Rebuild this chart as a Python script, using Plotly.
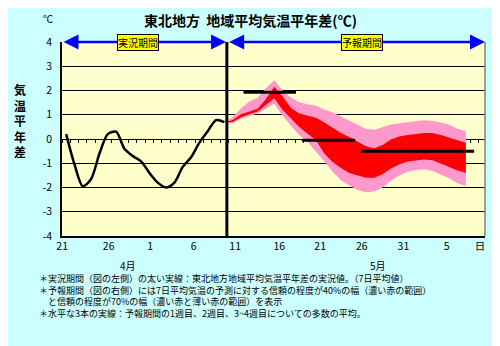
import plotly.graph_objects as go

# observed 7-day mean anomaly (day index 0 = Apr 21)
obs_days = list(range(20))
obs_vals = [0.2, -1.05, -1.95, -1.65, -0.6, 0.2, 0.3, -0.4, -0.7, -0.92,
            -1.4, -1.8, -2.0, -1.8, -1.15, -0.75, -0.15, 0.32, 0.78, 0.7]

# forecast period bands
fc_days = list(range(19, 49))
pink_hi = [0.68, 0.92, 1.26, 1.55, 1.7, 2.1, 2.42, 2.0, 1.7, 1.52,
           1.43, 1.37, 1.22, 1.1, 0.93, 0.75, 0.58, 0.42, 0.38, 0.5,
           0.6, 0.65, 0.7, 0.74, 0.77, 0.75, 0.68, 0.6, 0.42, 0.33]
red_hi = [0.68, 0.78, 1.02, 1.15, 1.25, 1.65, 2.15, 1.75, 1.28, 1.05,
          0.96, 0.88, 0.68, 0.45, 0.25, 0.08, -0.1, -0.3, -0.38, -0.25,
          -0.02, 0.1, 0.16, 0.2, 0.25, 0.25, 0.17, 0.05, -0.05, -0.15]
red_lo = [0.68, 0.7, 0.9, 1.02, 1.13, 1.4, 1.68, 1.2, 0.85, 0.5,
          0.22, -0.05, -0.6, -0.95, -1.2, -1.4, -1.5, -1.6, -1.6, -1.45,
          -1.22, -1.05, -0.93, -0.88, -0.85, -0.88, -1.0, -1.15, -1.3, -1.39]
pink_lo = [0.68, 0.65, 0.83, 0.95, 1.05, 1.25, 1.45, 0.95, 0.57, 0.15,
           -0.12, -0.5, -0.92, -1.35, -1.7, -1.92, -2.1, -2.2, -2.17, -2.0,
           -1.72, -1.5, -1.35, -1.28, -1.25, -1.32, -1.48, -1.62, -1.82, -1.94]

# weekly averages (1st week, 2nd week, weeks 3-4)
avg_vals = [1.93, -0.05, -0.5]
avg_start = [21.3, 28.3, 35.4]
avg_end = [27.6, 34.7, 49.0]

split_day = 19.3
tick_pos = [-0.48, 5.1, 10.1, 15.3, 20.3, 25.6, 30.5, 35.5, 40.5, 45.7, 49.7]
tick_text = ["21", "26", "1", "6", "11", "16", "21", "26", "31", "5", "日"]
y_ticks = [4, 3, 2, 1, 0, -1, -2, -3, -4]
y_text = ["4", "3", "2", "1", "0", "-1", "-2", "-3", "-4"]

FONT = "Noto Sans CJK JP"
fig = go.Figure()

fig.add_trace(go.Scatter(x=fc_days + fc_days[::-1], y=pink_hi + pink_lo[::-1],
                         fill="toself", fillcolor="#FF99CC", line=dict(width=0),
                         mode="lines", hoverinfo="skip"))
fig.add_trace(go.Scatter(x=fc_days + fc_days[::-1], y=red_hi + red_lo[::-1],
                         fill="toself", fillcolor="#FF0000", line=dict(width=0),
                         mode="lines", hoverinfo="skip"))
fig.add_trace(go.Scatter(x=obs_days, y=obs_vals, mode="lines",
                         line=dict(color="black", width=2.5, shape="spline", smoothing=0.8)))
for v, a, b in zip(avg_vals, avg_start, avg_end):
    fig.add_trace(go.Scatter(x=[a, b], y=[v, v], mode="lines",
                             line=dict(color="black", width=3)))

# invisible trace so the zero-line day axis gets drawn
fig.add_trace(go.Scatter(x=[0], y=[0], xaxis="x2", mode="markers",
                         marker=dict(opacity=0), hoverinfo="skip"))

xr = [-0.5, 50.3]
# page body has an 8px margin, so the figure is 8px smaller and shifted
fig.update_layout(
    width=492, height=338, showlegend=False,
    margin=dict(l=54, r=15, t=34, b=110),
    paper_bgcolor="#CCFFFF", plot_bgcolor="#FFFFCC",
    font=dict(family=FONT, color="black", size=10),
    xaxis=dict(range=xr, tickvals=tick_pos, ticktext=tick_text, showgrid=False,
               zeroline=False, showline=True, linecolor="black", linewidth=1.5,
               ticks="", ticklabelstandoff=0, tickfont=dict(size=10.5)),
    xaxis2=dict(range=xr, overlaying="x", anchor="free", position=0.5,
                tick0=-0.5, dtick=1, ticks="outside", ticklen=3, tickcolor="black",
                showticklabels=False, showgrid=False, zeroline=False, showline=False,
                layer="below traces"),
    yaxis=dict(range=[-4, 4], tickvals=y_ticks, ticktext=y_text, showgrid=True,
               gridcolor="black", gridwidth=1, zeroline=False, showline=True,
               linecolor="black", linewidth=1.5, ticks="inside", ticklen=3,
               tickcolor="black", ticklabelstandoff=6, tickfont=dict(size=10.5)),
)

# right border and split line
fig.add_shape(type="line", xref="paper", yref="paper", x0=1, x1=1, y0=0, y1=1,
              line=dict(color="#808080", width=1.5))
fig.add_shape(type="line", xref="x", yref="y", x0=split_day, x1=split_day, y0=-4, y1=4,
              line=dict(color="black", width=3))

# blue period arrows along the top
for a, b in [(xr[0], split_day - 0.1), (split_day + 0.1, xr[1])]:
    fig.add_annotation(x=b, y=4, ax=a, ay=4, xref="x", yref="y", axref="x", ayref="y",
                       text="", showarrow=True, arrowside="end+start", arrowhead=2,
                       arrowsize=1.2, arrowwidth=2.5, arrowcolor="#0000FF")
for label, xc in [("実況期間", 8.65), ("予報期間", 35.5)]:
    fig.add_annotation(x=xc, y=4, xref="x", yref="y", text=label, showarrow=False,
                       xanchor="center", yanchor="middle",
                       bgcolor="#FFFF00", bordercolor="black", borderwidth=1, borderpad=0,
                       font=dict(size=10, color="black"))

def px(x):
    return (x - 62) / 423

def py(y):
    return (236 - y) / 194

def note(text, x, y, size, anchor="center"):
    fig.add_annotation(x=px(x), y=py(y), xref="paper", yref="paper", showarrow=False,
                       xanchor=anchor, yanchor="middle", align="left", text=text,
                       font=dict(size=size))

note("<b>東北地方  地域平均気温平年差(℃)</b>", 250, 20, 14)
note("℃", 48, 18, 10)
note("<b>気<br>温<br>平<br>年<br>差</b>", 20, 120, 12)
note("4月", 128, 265, 10)
note("5月", 378, 265, 10)

notes = [
    "＊実況期間（図の左側）の太い実線：東北地方地域平均気温平年差の実況値。（7日平均値）",
    "＊予報期間（図の右側）には7日平均気温の予測に対する信頼の程度が40%の幅（濃い赤の範囲）",
    "　と信頼の程度が70%の幅（濃い赤と薄い赤の範囲）を表示",
    "＊水平な3本の実線：予報期間の1週目、2週目、3~4週目についての多数の平均。",
]
note("<br>".join(notes), 37, 296, 9, anchor="left")

fig.write_html("out.html")
